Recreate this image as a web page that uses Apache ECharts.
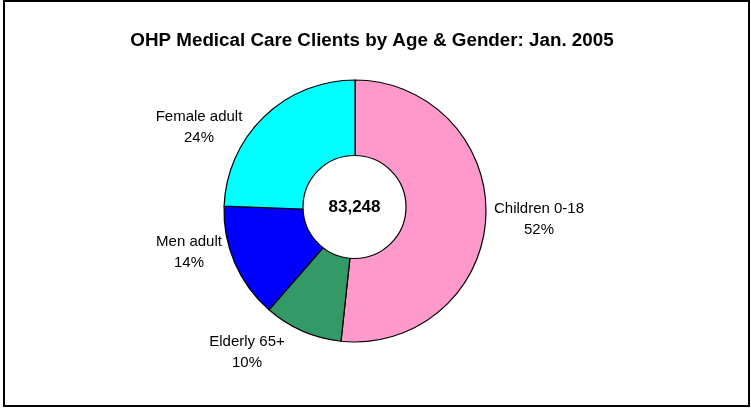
<!DOCTYPE html>
<html>
<head>
<meta charset="utf-8">
<script src="https://cdn.jsdelivr.net/npm/echarts@6/dist/echarts.min.js"></script>
<style>
html,body{margin:0;padding:0;background:#fff;}
#chart{width:751px;height:408px;}
</style>
</head>
<body>
<div id="chart"></div>
<script>
// ---- data ----
var titleText = 'OHP Medical Care Clients by Age & Gender: Jan. 2005';
var categories = ['Children 0-18', 'Elderly 65+', 'Men adult', 'Female adult'];
var clients = [43040, 8075, 11820, 20313];
var sliceColors = ['#FF99CC', '#339966', '#0000FF', '#00FFFF'];

var total = clients.reduce(function (a, b) { return a + b; }, 0);

// label centre positions (layout only)
var labelCenters = {
  'Children 0-18': [539, 219],
  'Elderly 65+': [247, 352],
  'Men adult': [189, 252],
  'Female adult': [199, 127]
};

var FONT = '"Liberation Sans", Arial, sans-serif';
var chart = echarts.init(document.getElementById('chart'), null, {renderer: 'canvas'});

chart.setOption({
  backgroundColor: '#fff',
  animation: false,
  title: {
    text: titleText,
    left: 367, top: 26, textAlign: 'center',
    textStyle: {fontFamily: FONT, fontSize: 18.8, fontWeight: 'bold', color: '#000'}
  },
  graphic: [{
    type: 'rect',
    shape: {x: 4, y: 1, width: 745, height: 405},
    style: {fill: 'none', stroke: '#000', lineWidth: 2},
    silent: true, z: 100
  }],
  series: [{
    type: 'pie',
    center: [355, 211],
    radius: [0, 131],
    startAngle: 90,
    clockwise: true,
    data: categories.map(function (c, i) {
      return {name: c, value: clients[i], itemStyle: {color: sliceColors[i]}};
    }),
    itemStyle: {borderColor: '#000', borderWidth: 1.2},
    label: {
      show: true,
      position: 'outside',
      formatter: function (p) { return p.name + '\n' + Math.round(p.percent) + '%'; },
      fontFamily: FONT, fontSize: 15, color: '#000', lineHeight: 21, align: 'center'
    },
    labelLine: {show: false},
    labelLayout: function (params) {
      var name = categories[params.dataIndex];
      var c = labelCenters[name];
      return {x: c[0], y: c[1], align: 'center', verticalAlign: 'middle'};
    },
    emphasis: {disabled: true},
    silent: true
  }, {
    type: 'pie',
    center: [354.5, 207],
    radius: [0, 51.5],
    z: 10,
    data: [{name: 'Total', value: total}],
    itemStyle: {color: '#fff', borderColor: '#000', borderWidth: 1.2},
    label: {
      show: true, position: 'center',
      formatter: function () { return total.toLocaleString('en-US'); },
      fontFamily: FONT, fontSize: 17, fontWeight: 'bold', color: '#000'
    },
    labelLine: {show: false},
    emphasis: {disabled: true},
    silent: true
  }]
});
</script>
</body>
</html>
